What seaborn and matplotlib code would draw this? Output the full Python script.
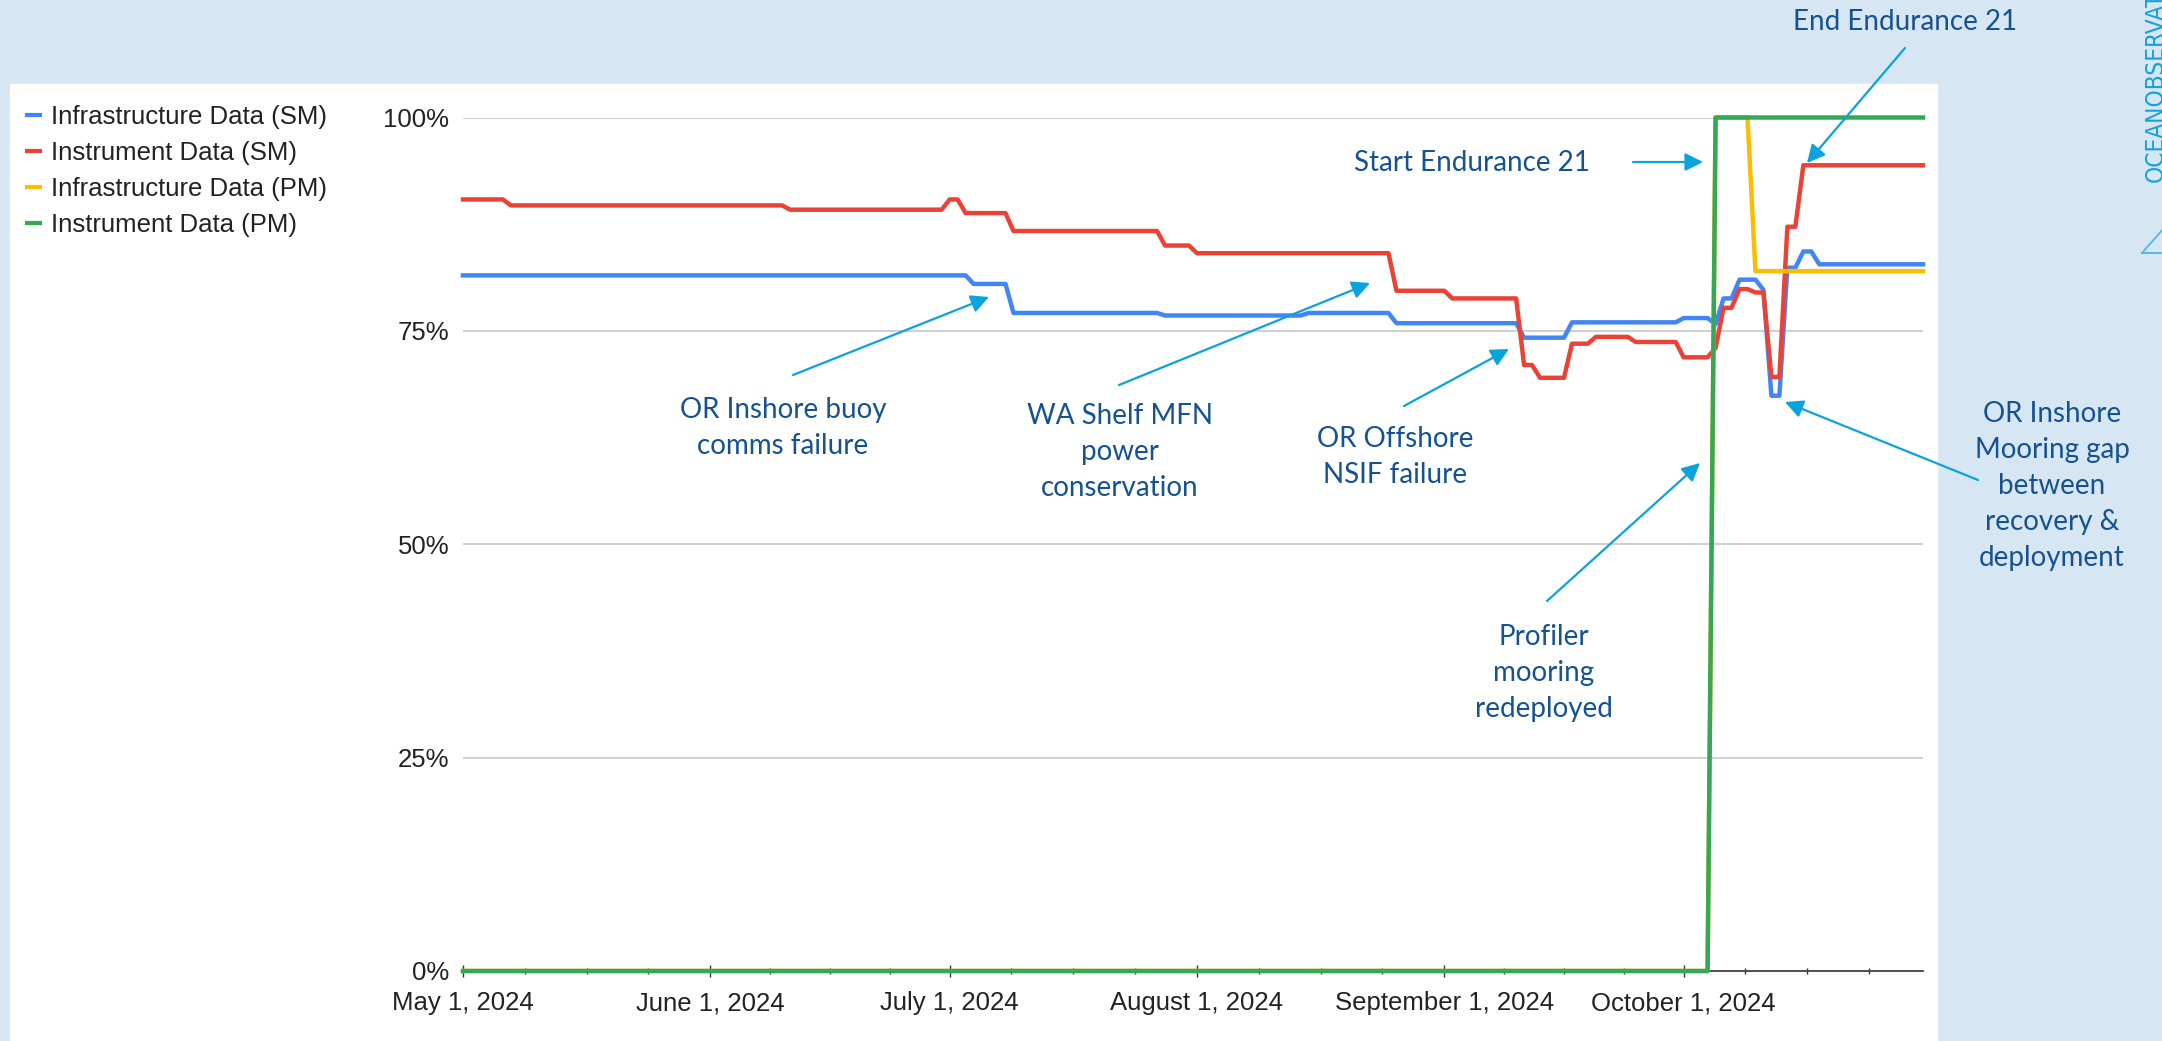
import pandas as pd
import numpy as np
import matplotlib.pyplot as plt
import matplotlib.dates as mdates
from matplotlib.lines import Line2D
from matplotlib.patches import Rectangle
import seaborn as sns

# vertices of each line (date, percent)
infra_sm_dates = ['2024-05-01', '2024-07-03', '2024-07-04', '2024-07-08', '2024-07-09', '2024-07-27',
                  '2024-07-28', '2024-08-14', '2024-08-15', '2024-08-25', '2024-08-26', '2024-09-10',
                  '2024-09-11', '2024-09-16', '2024-09-17', '2024-09-30', '2024-10-01', '2024-10-04',
                  '2024-10-05', '2024-10-06', '2024-10-07', '2024-10-08', '2024-10-10', '2024-10-11',
                  '2024-10-12', '2024-10-13', '2024-10-14', '2024-10-15', '2024-10-16', '2024-10-17',
                  '2024-10-18', '2024-10-31']
infra_sm_vals = [81.5, 81.5, 80.5, 80.5, 77.1, 77.1,
                 76.8, 76.8, 77.1, 77.1, 75.9, 75.9,
                 74.2, 74.2, 76.0, 76.0, 76.5, 76.5,
                 75.8, 78.8, 78.8, 81.0, 81.0, 79.8,
                 67.4, 67.4, 82.4, 82.4, 84.3, 84.3,
                 82.8, 82.8]

instr_sm_dates = ['2024-05-01', '2024-05-06', '2024-05-07', '2024-06-10', '2024-06-11', '2024-06-30',
                  '2024-07-01', '2024-07-02', '2024-07-03', '2024-07-08', '2024-07-09', '2024-07-27',
                  '2024-07-28', '2024-07-31', '2024-08-01', '2024-08-25', '2024-08-26', '2024-09-01',
                  '2024-09-02', '2024-09-10', '2024-09-11', '2024-09-12', '2024-09-13', '2024-09-16',
                  '2024-09-17', '2024-09-19', '2024-09-20', '2024-09-24', '2024-09-25', '2024-09-30',
                  '2024-10-01', '2024-10-04', '2024-10-05', '2024-10-06', '2024-10-07', '2024-10-08',
                  '2024-10-09', '2024-10-10', '2024-10-11', '2024-10-12', '2024-10-13', '2024-10-14',
                  '2024-10-15', '2024-10-16', '2024-10-31']
instr_sm_vals = [90.4, 90.4, 89.7, 89.7, 89.2, 89.2,
                 90.4, 90.4, 88.8, 88.8, 86.7, 86.7,
                 85.0, 85.0, 84.1, 84.1, 79.7, 79.7,
                 78.8, 78.8, 71.0, 71.0, 69.5, 69.5,
                 73.5, 73.5, 74.3, 74.3, 73.7, 73.7,
                 71.9, 71.9, 73.0, 77.7, 77.7, 79.9,
                 79.9, 79.5, 79.5, 69.6, 69.6, 87.2,
                 87.2, 94.4, 94.4]

infra_pm_dates = ['2024-05-01', '2024-10-04', '2024-10-05', '2024-10-09', '2024-10-10', '2024-10-31']
infra_pm_vals = [0, 0, 100, 100, 82.0, 82.0]

instr_pm_dates = ['2024-05-01', '2024-10-04', '2024-10-05', '2024-10-31']
instr_pm_vals = [0, 0, 100, 100]

series_names = ['Infrastructure Data (SM)', 'Instrument Data (SM)',
                'Infrastructure Data (PM)', 'Instrument Data (PM)']
series_colors = ['#4285F4', '#EA4335', '#FBBC04', '#34A853']

x_tick_dates = ['2024-05-01', '2024-06-01', '2024-07-01', '2024-08-01', '2024-09-01', '2024-10-01']
x_tick_labels = ['May 1, 2024', 'June 1, 2024', 'July 1, 2024', 'August 1, 2024',
                 'September 1, 2024', 'October 1, 2024']
y_ticks = [0, 25, 50, 75, 100]
y_tick_labels = ['0%', '25%', '50%', '75%', '100%']

notes = ['OR Inshore buoy\ncomms failure', 'WA Shelf MFN\npower\nconservation',
         'OR Offshore\nNSIF failure', 'Profiler\nmooring\nredeployed', 'Start Endurance 21',
         'End Endurance 21', 'OR Inshore\nMooring gap\nbetween\nrecovery &\ndeployment']

frames = []
for name, d, v in zip(series_names,
                      [infra_sm_dates, instr_sm_dates, infra_pm_dates, instr_pm_dates],
                      [infra_sm_vals, instr_sm_vals, infra_pm_vals, instr_pm_vals]):
    frames.append(pd.DataFrame({'date': pd.to_datetime(d), 'value': v, 'series': name}))
df = pd.concat(frames, ignore_index=True)

W, H = 2162, 1041
BG = '#D6E6F3'
TXT = '#15528F'
ARROW = '#0AA3DC'

fig = plt.figure(figsize=(W / 100, H / 100), dpi=100, facecolor=BG)
fig.patches.append(Rectangle((10 / W, 0), (1937 - 10) / W, (H - 84) / H,
                             transform=fig.transFigure, color='white', zorder=-10))

ax = fig.add_axes([463 / W, 70 / H, 1460 / W, 853.5 / H])
ax.set_facecolor('none')
ax.set_zorder(2)

sns.lineplot(data=df, x='date', y='value', hue='series', hue_order=series_names,
             palette=series_colors, linewidth=3.2, ax=ax, legend=False, sort=False)
for ln in ax.lines:
    ln.set_clip_on(False)
    ln.set_solid_joinstyle('round')

ax.set_xlim(pd.Timestamp('2024-05-01'), pd.Timestamp('2024-10-31'))
ax.set_ylim(0, 100)

tick_font = dict(family=['Liberation Sans', 'DejaVu Sans'], size=18.5, color='#222222')
ax.set_yticks(y_ticks)
ax.set_yticklabels(y_tick_labels, **tick_font)
ax.set_xticks(pd.to_datetime(x_tick_dates))
ax.set_xticklabels(x_tick_labels, **tick_font)

# quarter-month minor ticks
minor = []
for m in range(5, 11):
    start = pd.Timestamp(2024, m, 1)
    days = start.days_in_month
    for k in (1, 2, 3):
        minor.append(start + pd.Timedelta(days=days * k / 4))
ax.set_xticks(minor, minor=True)

ax.tick_params(axis='x', which='major', direction='inout', length=9, width=1, color='#333333', pad=10)
ax.tick_params(axis='x', which='minor', direction='inout', length=5, width=1, color='#333333')
ax.tick_params(axis='y', length=0, pad=10)
ax.set_xlabel('')
ax.set_ylabel('')
for s in ['top', 'left', 'right']:
    ax.spines[s].set_visible(False)
ax.spines['bottom'].set_color('#444444')
ax.spines['bottom'].set_linewidth(1.3)
ax.spines['bottom'].set_zorder(1)
ax.yaxis.grid(True, color='#CCCCCC', linewidth=1.3)
ax.set_axisbelow(True)

handles = [Line2D([0], [0], color=c, lw=3) for c in series_colors]
fig.legend(handles, series_names, loc='upper left', bbox_to_anchor=(27 / W, 1 - 105 / H),
           frameon=False, prop=dict(family=['Liberation Sans', 'DejaVu Sans'], size=18.5),
           labelcolor='#222222', handlelength=0.5, handletextpad=0.42, labelspacing=0.47,
           borderpad=0, borderaxespad=0)

# annotation text: (x, y) centre in image pixels from top-left
note_pos = [(783, 428), (1120, 452), (1395, 457), (1544, 673), (1472, 163), (1905, 22), (2052, 486)]
note_font = dict(family=['Lato', 'DejaVu Sans'], size=20, color=TXT)
for s, (x, y) in zip(notes, note_pos):
    fig.text(x / W, 1 - y / H, s, ha='center', va='center', linespacing=1.47, zorder=5, **note_font)

# arrows: tail -> head in image pixels from top-left
arrows = [((793, 375), (989, 297)), ((1119, 385), (1370, 283)), ((1404, 406), (1509, 349)),
          ((1547, 601), (1700, 463)), ((1633, 162), (1703, 162)), ((1905, 48), (1807, 163)),
          ((1978, 480), (1785, 402))]
for (tx, ty), (hx, hy) in arrows:
    ax.annotate('', xy=(hx, H - hy), xytext=(tx, H - ty), xycoords='figure pixels',
                textcoords='figure pixels', annotation_clip=False,
                arrowprops=dict(arrowstyle='-|>', color=ARROW, lw=1.6, mutation_scale=27,
                                shrinkA=0, shrinkB=0))

# logo fragment at the right edge
fig.text(2156 / W, 1 - 182 / H, 'OCEANOBSERVATORIES', rotation=90, ha='center', va='bottom',
         color='#14A2DA', family=['DejaVu Sans'], fontstretch='condensed', fontsize=17.5)
fig.add_artist(Line2D([2142 / W, 2162 / W], [1 - 253 / H, 1 - 253 / H], color='#4DB8E4', lw=1.3))
fig.add_artist(Line2D([2142 / W, 2164 / W], [1 - 253 / H, 1 - 228 / H], color='#4DB8E4', lw=1.3))

fig.savefig('out.png', dpi=100, facecolor=BG)
